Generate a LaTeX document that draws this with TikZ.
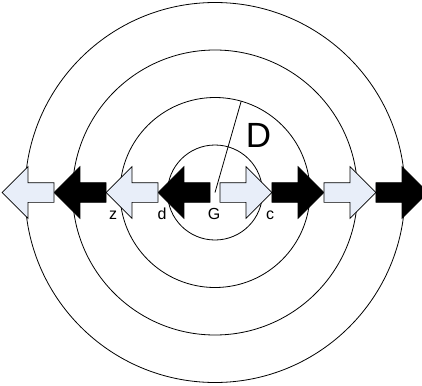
\documentclass[tikz,border=0pt]{standalone}
\usepackage{fontspec}
\setmainfont{Liberation Sans}
\usepackage{tikz}
\usetikzlibrary{shapes.arrows}
\definecolor{paleblue}{RGB}{232,238,249}
\tikzstyle{blockarrow} = [single arrow, single arrow tip angle=90, single arrow head extend=16pt, minimum width=51pt, minimum height=52pt, inner xsep=0pt, inner ysep=9.5pt, outer sep=0pt, text height=0pt, text depth=0pt, line width=0.7pt, draw=black]
\tikzstyle{lightarrow} = [blockarrow, fill=paleblue]
\tikzstyle{darkarrow} = [blockarrow, fill=black]
\tikzstyle{ring} = [line width=0.8pt]
\tikzstyle{lbl} = [anchor=base, inner sep=0pt, font=\fontsize{16}{18}\selectfont]

\begin{document}
\begin{tikzpicture}[x=1pt, y=-1pt]
\useasboundingbox (0,0) rectangle (422,385);
\coordinate (G) at (215,192.5);
\coordinate (rim) at ([shift={(-74:95)}]G);

\draw [ring] (G) circle (47.5);
\draw [ring] (G) circle (95);
\draw [ring] (G) circle (142.5);
\draw [ring] (G) circle (190);

\node (w1) [darkarrow, shape border rotate=180] at (189,192.5) {};
\node (w2) [lightarrow, shape border rotate=180] at (137,192.5) {};
\node (w3) [darkarrow, shape border rotate=180] at (85,192.5) {};
\node (w4) [lightarrow, shape border rotate=180] at (33,192.5) {};
\node (e1) [lightarrow] at (241,192.5) {};
\node (e2) [darkarrow] at (293,192.5) {};
\node (e3) [lightarrow] at (345,192.5) {};
\node (e4) [darkarrow] at (397,192.5) {};

\draw [ring] (G) -- (rim);

\node (z) [lbl] at (113,219) {z};
\node (d) [lbl] at (162,219) {d};
\node (Glbl) [lbl] at (214,219) {G};
\node (c) [lbl] at (270,219) {c};
\node (D) [anchor=base, inner sep=0pt, font=\fontsize{35}{40}\selectfont] at (258.5,147) {D};
\end{tikzpicture}
\end{document}
